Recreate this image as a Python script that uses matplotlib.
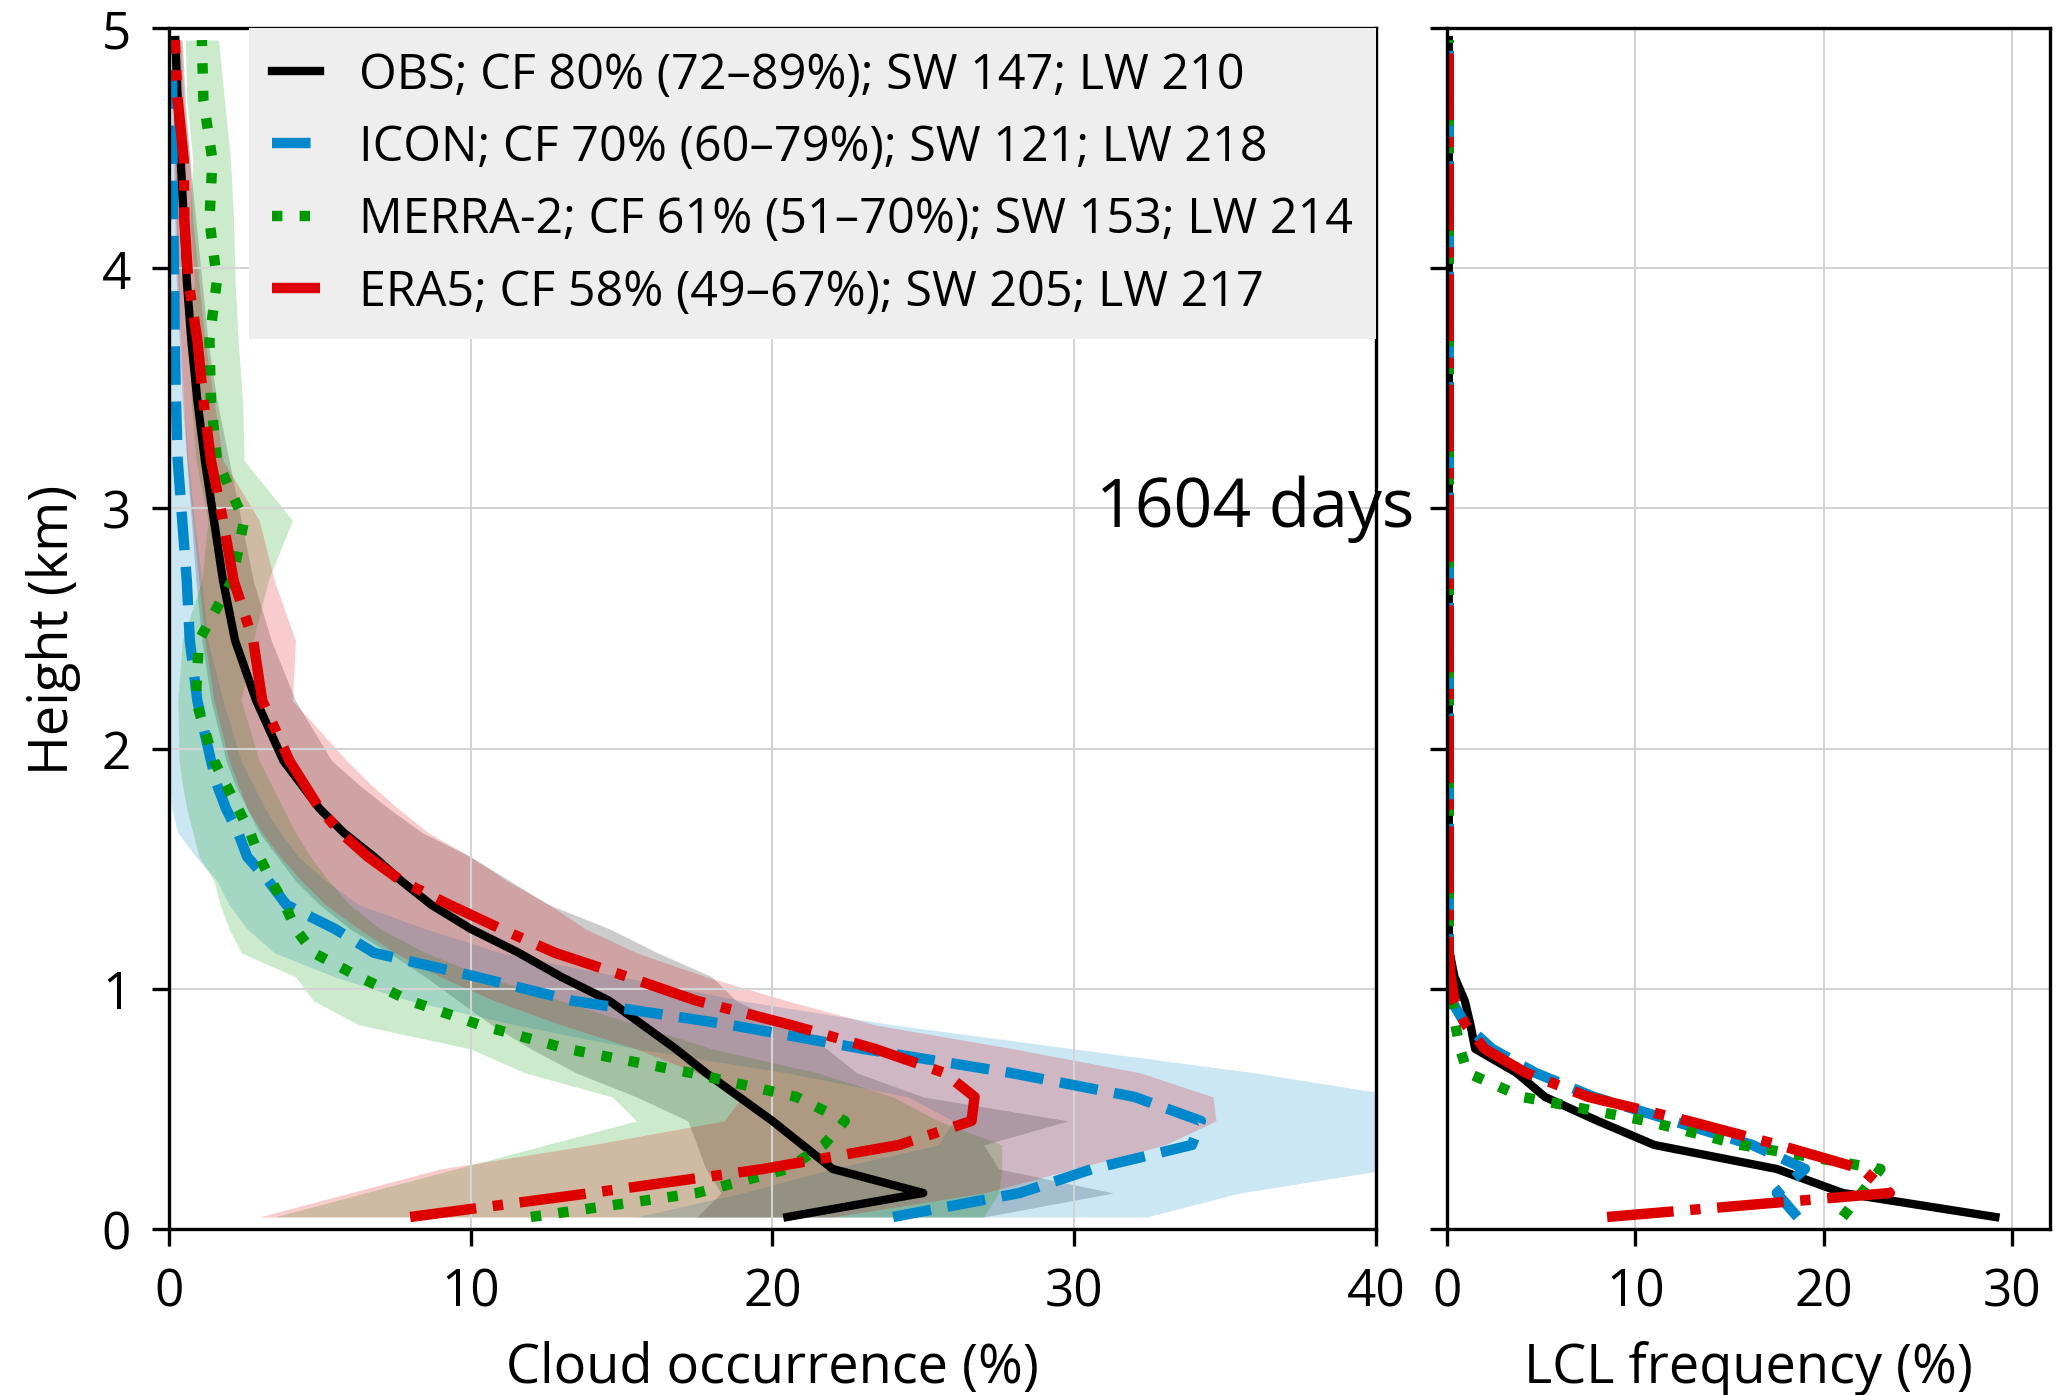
import matplotlib.pyplot as plt

plt.rcParams['font.family'] = ['Open Sans', 'DejaVu Sans']

# Height levels (km) of the cloud occurrence profiles
height = [0.05, 0.15, 0.25, 0.35, 0.45, 0.55, 0.65, 0.75, 0.85, 0.95,
          1.05, 1.15, 1.25, 1.35, 1.45, 1.55, 1.65, 1.75, 1.85, 1.95,
          2.2, 2.45, 2.7, 2.95, 3.2, 3.45, 3.7, 3.95, 4.2, 4.45, 4.7, 4.95]

# Cloud occurrence (%) with its uncertainty range
obs = [20.5, 25.0, 22.0, 21.0, 20.0, 18.9, 17.8, 16.8, 15.7, 14.6,
       13.0, 11.6, 10.0, 8.7, 7.7, 6.8, 5.8, 5.0, 4.4, 3.8,
       2.9, 2.2, 1.8, 1.5, 1.2, 0.95, 0.75, 0.6, 0.5, 0.4, 0.3, 0.22]
obs_lo = [17.5, 18.3, 17.8, 17.5, 17.2, 15.5, 13.5, 12.0, 10.7, 9.6,
          8.5, 7.3, 6.0, 5.0, 4.2, 3.6, 3.0, 2.6, 2.2, 1.9,
          1.4, 1.1, 0.9, 0.75, 0.6, 0.5, 0.4, 0.3, 0.25, 0.2, 0.15, 0.1]
obs_hi = [27.0, 31.3, 27.5, 27.0, 29.8, 25.0, 22.8, 21.8, 20.5, 18.8,
          18.0, 16.2, 14.6, 12.6, 11.3, 10.0, 8.4, 7.3, 6.3, 5.4,
          4.2, 3.4, 2.8, 2.4, 2.0, 1.6, 1.3, 1.1, 0.9, 0.7, 0.55, 0.45]

icon = [24.0, 28.2, 30.6, 33.9, 34.2, 32.0, 27.9, 23.0, 18.6, 13.4,
        10.2, 6.8, 5.5, 3.9, 3.3, 2.6, 2.3, 1.9, 1.6, 1.4,
        0.95, 0.7, 0.6, 0.45, 0.3, 0.24, 0.2, 0.18, 0.15, 0.13, 0.12, 0.1]
icon_lo = [15.5, 19.0, 22.0, 25.5, 26.0, 24.5, 20.5, 15.5, 11.5, 8.0,
           5.5, 3.5, 2.6, 2.0, 1.6, 0.9, 0.3, 0.1, 0.05, 0.02,
           0.02, 0.02, 0.02, 0.02, 0.02, 0.02, 0.02, 0.02, 0.02, 0.02, 0.02, 0.02]
icon_hi = [32.4, 35.5, 40.5, 43.0, 45.0, 41.0, 36.0, 30.0, 24.0, 19.0,
           15.0, 11.0, 8.5, 6.3, 5.2, 4.3, 3.7, 3.2, 2.8, 2.4,
           1.8, 1.3, 1.1, 0.85, 0.65, 0.5, 0.4, 0.35, 0.3, 0.25, 0.22, 0.2]

merra = [12.0, 17.5, 20.5, 21.7, 22.4, 20.8, 17.3, 13.2, 10.3, 8.0,
         6.3, 4.8, 4.2, 3.85, 3.4, 3.0, 2.7, 2.3, 1.9, 1.5,
         0.9, 1.0, 2.1, 2.5, 1.6, 1.4, 1.35, 1.6, 1.35, 1.45, 1.15, 1.1]
merra_lo = [3.5, 6.5, 9.5, 12.5, 15.5, 14.7, 11.8, 10.0, 6.3, 4.8,
            4.2, 2.4, 2.0, 1.7, 1.5, 1.0, 0.8, 0.6, 0.45, 0.35,
            0.3, 0.45, 1.1, 1.3, 0.9, 0.75, 0.7, 0.85, 0.7, 0.8, 0.6, 0.55]
merra_hi = [27.0, 27.5, 27.6, 27.6, 25.5, 24.0, 21.5, 18.0, 15.5, 13.0,
            10.5, 8.5, 7.0, 6.0, 5.3, 4.7, 4.2, 3.8, 3.4, 3.0,
            2.4, 2.8, 3.3, 4.1, 2.5, 2.45, 2.3, 2.2, 2.15, 2.05, 1.85, 1.65]

era5 = [8.0, 14.0, 19.7, 24.2, 26.6, 26.7, 25.7, 23.4, 20.6, 17.5,
        15.2, 12.8, 11.0, 9.3, 7.7, 6.6, 5.7, 5.0, 4.5, 4.0,
        3.1, 2.8, 2.15, 1.8, 1.4, 1.15, 0.95, 0.65, 0.52, 0.5, 0.3, 0.2]
era5_lo = [3.0, 6.0, 9.0, 14.0, 18.4, 19.0, 17.5, 15.5, 13.0, 10.8,
           9.0, 7.5, 6.3, 5.2, 4.4, 3.7, 3.1, 2.6, 2.3, 2.0,
           1.5, 1.2, 1.0, 0.8, 0.6, 0.45, 0.35, 0.25, 0.2, 0.15, 0.1, 0.08]
era5_hi = [22.0, 27.0, 30.0, 33.0, 34.7, 34.6, 32.2, 28.0, 23.4, 20.5,
           17.8, 15.5, 13.8, 12.6, 11.2, 10.0, 8.6, 7.6, 6.7, 5.9,
           4.1, 4.2, 3.5, 3.0, 1.8, 1.5, 1.2, 1.0, 0.8, 0.7, 0.5, 0.4]

# LCL height frequency (%)
lcl_height = [0.05, 0.15, 0.25, 0.35, 0.45, 0.55, 0.65, 0.75, 0.85, 0.95,
              1.05, 1.15, 1.25, 4.95]
lcl_obs = [29.1, 21.0, 17.5, 11.0, 8.0, 5.2, 3.7, 1.5, 1.25, 0.95, 0.4, 0.15, 0.1, 0.1]
lcl_icon = [18.6, 17.5, 19.0, 16.2, 12.0, 7.8, 4.7, 2.4, 1.0, 0.25, 0.1, 0.1, 0.1, 0.1]
lcl_merra = [21.0, 22.0, 23.0, 15.6, 10.6, 4.0, 1.1, 0.7, 0.45, 0.25, 0.12, 0.1, 0.1, 0.1]
lcl_era5 = [8.5, 23.5, 22.0, 17.6, 12.8, 7.5, 4.2, 2.0, 1.0, 0.4, 0.2, 0.1, 0.1, 0.1]

labels = ['OBS; CF 80% (72–89%); SW 147; LW 210',
          'ICON; CF 70% (60–79%); SW 121; LW 218',
          'MERRA-2; CF 61% (51–70%); SW 153; LW 214',
          'ERA5; CF 58% (49–67%); SW 205; LW 217']
colors = ['black', '#0088cc', '#009900', '#dd0000']
styles = ['-', '--', ':', '-.']
widths = [2.0, 2.5, 2.5, 2.5]

profiles = [obs, icon, merra, era5]
lows = [obs_lo, icon_lo, merra_lo, era5_lo]
highs = [obs_hi, icon_hi, merra_hi, era5_hi]
lcl = [lcl_obs, lcl_icon, lcl_merra, lcl_era5]

fig = plt.figure(figsize=(6.89, 4.6533), dpi=300)
ax = fig.add_axes([0.0816, 0.1189, 0.5841, 0.8603])
ax2 = fig.add_axes([0.7000, 0.1189, 0.2918, 0.8603], sharey=ax)

for lo, hi, c in zip(lows, highs, colors):
    ax.fill_betweenx(height, lo, hi, color=c, alpha=0.2, lw=0)

for prof, lab, c, ls, lw in zip(profiles, labels, colors, styles, widths):
    ax.plot(prof, height, color=c, ls=ls, lw=lw, label=lab)

for freq, c, ls, lw in zip(lcl, colors, styles, widths):
    ax2.plot(freq, lcl_height, color=c, ls=ls, lw=lw)

ax.set_xlim(0, 40)
ax.set_ylim(0, 5)
ax2.set_xlim(0, 32)
ax.set_xticks([0, 10, 20, 30, 40])
ax.set_yticks([0, 1, 2, 3, 4, 5])
ax2.set_xticks([0, 10, 20, 30])
ax2.tick_params(labelleft=False)

for a in (ax, ax2):
    a.grid(True, color='#d4d4d4', lw=0.5)
    a.tick_params(direction='out', length=4, width=0.8, pad=5, labelsize=12.3)
    for s in a.spines.values():
        s.set_linewidth(0.8)

ax.set_xlabel('Cloud occurrence (%)', fontsize=13, labelpad=5.5)
ax.set_ylabel('Height (km)', fontsize=13, labelpad=5)
ax2.set_xlabel('LCL frequency (%)', fontsize=13, labelpad=5.5)

ax.text(36, 3.0, '1604 days', ha='center', va='center', fontsize=16.3)

leg = ax.legend(loc='upper right', borderaxespad=0, fancybox=False,
                facecolor='#eeeeee', edgecolor='none', framealpha=1,
                fontsize=11.65, handlelength=1.0, handletextpad=0.8,
                labelspacing=0.465, borderpad=0.47)

fig.savefig('out.png', dpi=300)
